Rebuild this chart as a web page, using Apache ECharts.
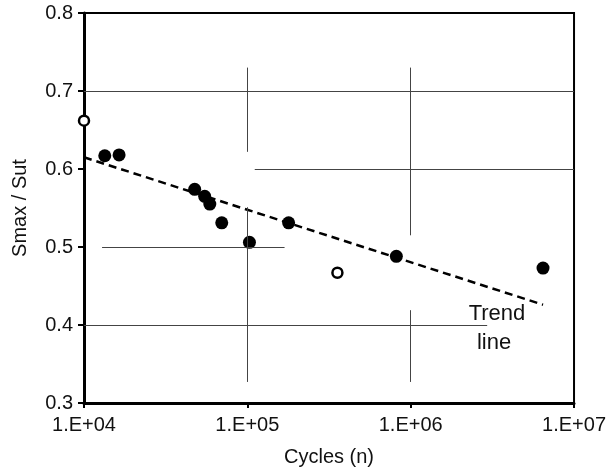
<!DOCTYPE html>
<html>
<head>
<meta charset="utf-8">
<script src="https://cdn.jsdelivr.net/npm/echarts@6/dist/echarts.min.js"></script>
<style>
  html, body { margin: 0; padding: 0; background: #fff; }
  #chart { width: 609px; height: 472px; }
</style>
</head>
<body>
<div id="chart"></div>
<script>
// filled points (cycles, Smax/Sut)
const filledCycles = [1.34e4, 1.64e4, 4.76e4, 5.48e4, 5.89e4, 6.97e4, 1.03e5, 1.79e5, 8.17e5, 6.46e6];
const filledRatio  = [0.617, 0.618, 0.574, 0.565, 0.555, 0.531, 0.506, 0.531, 0.488, 0.473];
// open points
const openCycles = [1.0e4, 3.56e5];
const openRatio  = [0.662, 0.467];
// trend line end points
const trendCycles = [1.0e4, 6.46e6];
const trendRatio  = [0.615, 0.426];
// partial grid lines [x1, y1, x2, y2]
const gridSegments = [
  [1e4, 0.7, 1e7, 0.7],
  [1.11e5, 0.6, 1e7, 0.6],
  [1.29e4, 0.5, 1.69e5, 0.5],
  [1e4, 0.4, 2.94e6, 0.4],
  [1e5, 0.73, 1e5, 0.622],
  [1e5, 0.551, 1e5, 0.327],
  [1e6, 0.73, 1e6, 0.515],
  [1e6, 0.419, 1e6, 0.327]
];
const yTicks = [0.3, 0.4, 0.5, 0.6, 0.7, 0.8];

const font = 'Liberation Sans, Arial, sans-serif';
const zip = (a, b) => a.map((v, i) => [v, b[i]]);

let myChart = echarts.init(document.getElementById('chart'));
myChart.setOption({
  animation: false,
  grid: {
    left: 84, right: 34, top: 13, bottom: 69,
    show: true, borderColor: '#000', borderWidth: 2
  },
  xAxis: {
    type: 'log',
    logBase: 10,
    min: 1e4,
    max: 1e7,
    name: 'Cycles (n)',
    nameLocation: 'middle',
    nameGap: 44,
    nameTextStyle: { color: '#111', fontSize: 20, fontFamily: font },
    axisLine: { lineStyle: { color: '#000', width: 3 } },
    axisTick: { show: true, length: 5, lineStyle: { color: '#000', width: 2 } },
    minorTick: { show: false },
    splitLine: { show: false },
    axisLabel: {
      color: '#111', fontSize: 20, fontFamily: font, margin: 12,
      formatter: function (v) {
        return '1.E+' + String(Math.round(Math.log10(v))).padStart(2, '0');
      }
    }
  },
  yAxis: {
    type: 'value',
    min: yTicks[0],
    max: yTicks[yTicks.length - 1],
    interval: 0.1,
    name: 'Smax / Sut',
    nameLocation: 'middle',
    nameGap: 54,
    nameTextStyle: { color: '#111', fontSize: 20, fontFamily: font },
    axisLine: { show: true, lineStyle: { color: '#000', width: 3 } },
    axisTick: { show: true, length: 6, lineStyle: { color: '#000', width: 2 } },
    splitLine: { show: false },
    axisLabel: {
      color: '#111', fontSize: 20, fontFamily: font, margin: 11,
      formatter: function (v) { return v.toFixed(1); }
    }
  },
  series: [
    {
      name: 'grid',
      type: 'line',
      data: [],
      silent: true,
      markLine: {
        silent: true,
        symbol: 'none',
        label: { show: false },
        lineStyle: { color: '#444', width: 1, type: 'solid' },
        data: gridSegments.map(s => [{ coord: [s[0], s[1]] }, { coord: [s[2], s[3]] }])
      }
    },
    {
      name: 'Trend line',
      type: 'line',
      data: zip(trendCycles, trendRatio),
      showSymbol: false,
      lineStyle: { color: '#000', width: 2.5, type: [8, 5] },
      z: 3
    },
    {
      name: 'filled',
      type: 'scatter',
      data: zip(filledCycles, filledRatio),
      symbol: 'circle',
      symbolSize: 13,
      itemStyle: { color: '#000', opacity: 1 },
      z: 4
    },
    {
      name: 'open',
      type: 'scatter',
      data: zip(openCycles, openRatio),
      symbol: 'circle',
      symbolSize: 10,
      itemStyle: { color: '#fff', borderColor: '#000', borderWidth: 2.5, opacity: 1 },
      z: 5
    }
  ],
  graphic: [
    {
      type: 'text', x: 497, y: 314,
      style: { text: 'Trend', font: '22px ' + font, fill: '#111', textAlign: 'center', textVerticalAlign: 'middle' }
    },
    {
      type: 'text', x: 494, y: 343,
      style: { text: 'line', font: '22px ' + font, fill: '#111', textAlign: 'center', textVerticalAlign: 'middle' }
    }
  ]
});
</script>
</body>
</html>
